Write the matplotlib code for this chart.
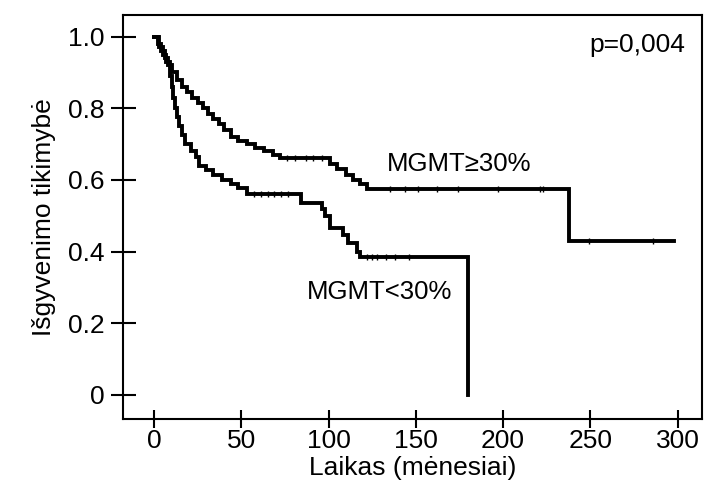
import matplotlib.pyplot as plt

plt.rcParams['font.family'] = ['Liberation Sans', 'DejaVu Sans']

# Kaplan-Meier steps
t_hi = [0, 2, 4, 6, 8, 10, 13, 16, 19, 22, 25, 28, 31, 34, 37, 40, 44, 48, 53,
        58, 63, 68, 72, 101, 105, 110, 114, 118, 122, 238, 298]
s_hi = [1.0, 0.98, 0.96, 0.94, 0.92, 0.90, 0.88, 0.86, 0.845, 0.83, 0.815, 0.80,
        0.785, 0.77, 0.755, 0.74, 0.72, 0.71, 0.70, 0.69, 0.68, 0.67, 0.66,
        0.645, 0.63, 0.615, 0.60, 0.59, 0.575, 0.43, 0.43]
cens_hi = [76, 81, 87, 91, 96, 135, 144, 151, 162, 174, 197, 221, 223, 249, 286]

t_lo = [0, 3, 5, 7, 9, 10, 11, 12, 13, 14, 16, 18, 21, 24, 26, 30, 34, 39, 44,
        48, 53, 84, 96, 98, 101, 108, 111, 116, 118, 180, 180]
s_lo = [1.0, 0.97, 0.95, 0.93, 0.89, 0.86, 0.83, 0.80, 0.775, 0.75, 0.725, 0.70,
        0.68, 0.665, 0.64, 0.628, 0.615, 0.60, 0.59, 0.578, 0.56, 0.536, 0.52,
        0.50, 0.466, 0.445, 0.425, 0.40, 0.385, 0.0, 0.0]
cens_lo = [57, 61, 65, 69, 73, 77, 122, 125, 128, 133, 138, 146]

x_ticks = [0, 50, 100, 150, 200, 250, 300]
y_ticks = [0, 0.2, 0.4, 0.6, 0.8, 1.0]
y_labels = ['0', '0.2', '0.4', '0.6', '0.8', '1.0']


def level_at(ts, ss, t):
    val = ss[0]
    for ti, si in zip(ts, ss):
        if ti <= t:
            val = si
    return val


fig = plt.figure(figsize=(7.07, 4.94), dpi=100)
ax = fig.add_axes([0.174, 0.152, 0.819, 0.818])

for ts, ss, cens in [(t_hi, s_hi, cens_hi), (t_lo, s_lo, cens_lo)]:
    ax.step(ts, ss, where='post', color='black', linewidth=2.8, solid_joinstyle='miter')
    ax.plot(cens, [level_at(ts, ss, c) for c in cens], linestyle='none',
            marker='|', markersize=5, markeredgewidth=1.0, color='black')

ax.set_xlim(-17.8, 314)
ax.set_ylim(-0.067, 1.061)
ax.set_xticks(x_ticks)
ax.set_yticks(y_ticks)
ax.set_yticklabels(y_labels)
ax.tick_params(direction='inout', width=1.5, labelsize=19)
ax.tick_params(axis='x', length=13, pad=1)
ax.tick_params(axis='y', length=18, pad=4)
for sp in ax.spines.values():
    sp.set_linewidth(1.5)

ax.set_xlabel('Laikas (mėnesiai)', fontsize=19, labelpad=2)
ax.set_ylabel('Išgyvenimo tikimybė', fontsize=19, labelpad=9)

ax.text(304.5, 0.978, 'p=0,004', fontsize=19, ha='right', va='center')
ax.text(175, 0.645, 'MGMT≥30%', fontsize=18.5, ha='center', va='center')
ax.text(129, 0.287, 'MGMT<30%', fontsize=18.5, ha='center', va='center')

fig.savefig('out.png', dpi=100)
